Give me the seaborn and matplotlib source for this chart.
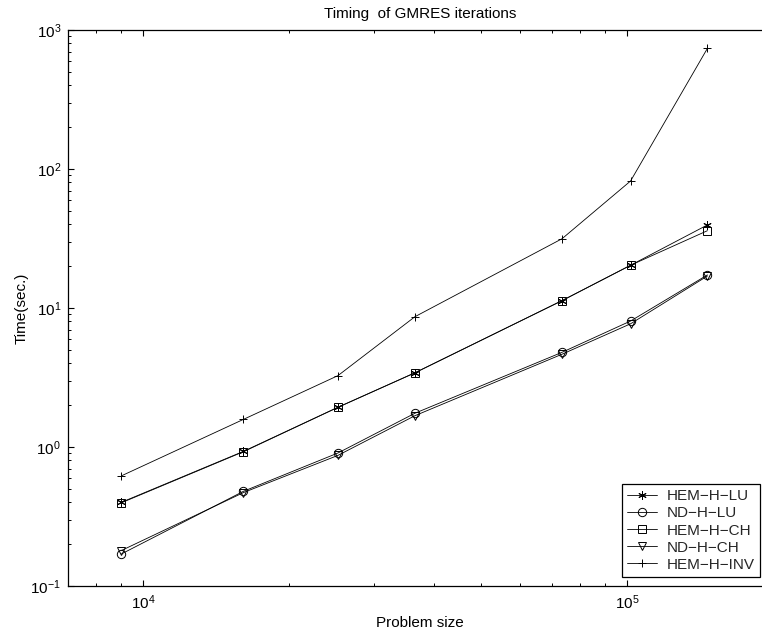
import matplotlib
matplotlib.use("Agg")
import matplotlib.pyplot as plt
import seaborn as sns
from matplotlib.ticker import LogLocator, NullFormatter

# ---- data ----
problem_size = [9025, 16129, 25281, 36481, 73441, 101761, 146689]
hem_h_lu = [0.40, 0.93, 1.93, 3.42, 11.3, 20.3, 39.6]
nd_h_lu = [0.170, 0.48, 0.905, 1.75, 4.80, 8.06, 17.3]
hem_h_ch = [0.397, 0.925, 1.93, 3.42, 11.3, 20.3, 36.0]
nd_h_ch = [0.18, 0.47, 0.87, 1.68, 4.65, 7.7, 17.0]
hem_h_inv = [0.62, 1.58, 3.26, 8.66, 31.5, 82.0, 738.0]
series_names = ["HEM\u2212H\u2212LU", "ND\u2212H\u2212LU", "HEM\u2212H\u2212CH",
                "ND\u2212H\u2212CH", "HEM\u2212H\u2212INV"]
series_values = [hem_h_lu, nd_h_lu, hem_h_ch, nd_h_ch, hem_h_inv]
series_markers = [(6, 2, 0), "o", "s", "v", "+"]

sns.set_theme(style="ticks")
plt.rcParams["font.family"] = ["Liberation Sans", "DejaVu Sans"]
plt.rcParams["mathtext.default"] = "regular"

W, H = 762, 634
fig = plt.figure(figsize=(W / 100, H / 100), dpi=100)
ax = fig.add_axes([68 / W, 48 / H, (772.6 - 68) / W, 556 / H])

for name, vals, mk in zip(series_names, series_values, series_markers):
    sns.lineplot(x=problem_size, y=vals, ax=ax, color="black", lw=0.6,
                 marker=mk, markersize=6, markerfacecolor="none",
                 markeredgecolor="black", markeredgewidth=0.7, label=name)

ax.set_xscale("log")
ax.set_yscale("log")
ax.set_xlim(7000, 2e5)
ax.set_ylim(0.1, 1000)

for sp in ax.spines.values():
    sp.set_visible(True)
    sp.set_color("black")
    sp.set_linewidth(0.9)

ax.xaxis.set_major_locator(LogLocator(base=10, numticks=10))
ax.yaxis.set_major_locator(LogLocator(base=10, numticks=10))
ax.xaxis.set_minor_locator(LogLocator(base=10, subs=range(2, 10), numticks=20))
ax.yaxis.set_minor_locator(LogLocator(base=10, subs=range(2, 10), numticks=20))
ax.xaxis.set_minor_formatter(NullFormatter())
ax.yaxis.set_minor_formatter(NullFormatter())
ax.tick_params(which="both", direction="in", top=True, right=True,
               color="black", labelsize=11, labelcolor="black")
ax.tick_params(which="major", length=4.5, width=0.8, pad=5)
ax.tick_params(which="minor", length=2.5, width=0.7)

ax.set_title("Timing  of GMRES iterations", fontsize=11, pad=8.5, color="black")
ax.set_xlabel("Problem size", fontsize=11, labelpad=3, color="black")
ax.set_ylabel("Time(sec.)", fontsize=11, labelpad=1, color="black")
ax.grid(False)

leg = ax.legend(loc="lower right", bbox_to_anchor=(760 / W, (H - 577) / H),
                bbox_transform=fig.transFigure, fontsize=11, frameon=True,
                fancybox=False, framealpha=1, edgecolor="black",
                handlelength=2.0, handletextpad=0.6, labelspacing=0.2,
                borderpad=0.35, borderaxespad=0)
leg.get_frame().set_linewidth(0.9)

fig.savefig("out.png", dpi=100)
